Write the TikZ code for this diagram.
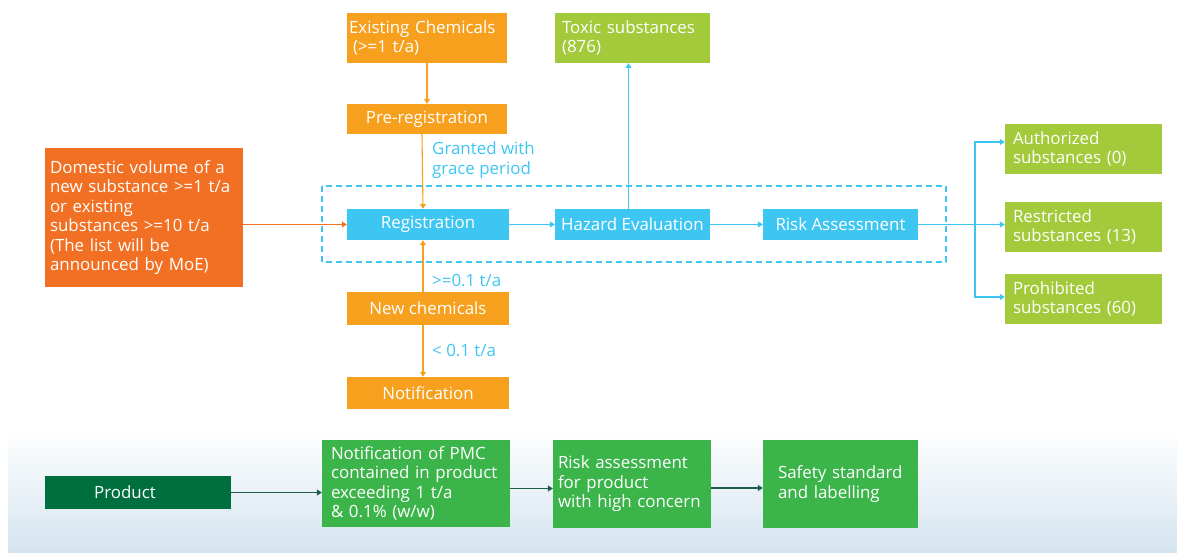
\documentclass[tikz,border=0pt]{standalone}
\usepackage{fontspec}
\setmainfont{Open Sans}
\usetikzlibrary{arrows.meta}
\definecolor{orangeL}{HTML}{F7A01E}
\definecolor{orangeD}{HTML}{F27023}
\definecolor{blueB}{HTML}{3EC6F3}
\definecolor{limeG}{HTML}{A3CA3A}
\definecolor{greenB}{HTML}{3BB54A}
\definecolor{greenD}{HTML}{006F3F}
\definecolor{greenA}{HTML}{1B5E45}
\definecolor{bandB}{HTML}{D4E4EF}
\begin{document}
\begin{tikzpicture}[x=1pt,y=-1pt,
  >={Triangle[length=5pt,width=6pt]},
  box/.style={inner sep=0pt, text=white, font=\fontsize{16.9}{19.5}\selectfont},
  lbl/.style={inner sep=0pt, anchor=west, align=left, text=blueB, font=\fontsize{16.9}{19.5}\selectfont}]
\useasboundingbox (0,0) rectangle (1177,553);
\fill[top color=white, bottom color=bandB] (8,428) rectangle (1177,553);

% chemicals
\node[box, fill=orangeL, minimum height=50pt, text width=156pt, inner xsep=2pt, align=left] (exist) at (427,38) {Existing Chemicals\\\hspace*{4pt}(>=1 t/a)};
\node[box, fill=orangeL, minimum width=160pt, minimum height=30pt] (prereg) at (427,119) {Pre-registration};
\node[box, fill=orangeD, minimum height=139pt, text width=188pt, inner xsep=5pt, align=left] (dom) at (144,217.5) {Domestic volume of a\\new substance >=1 t/a\\or existing\\substances >=10 t/a\\(The list will be\\announced by MoE)};
\node[box, fill=blueB, minimum width=162pt, minimum height=31pt] (reg) at (428,224.5) {Registration};
\node[box, fill=blueB, minimum width=155pt, minimum height=31pt] (haz) at (632.5,224.5) {Hazard Evaluation};
\node[box, fill=blueB, minimum width=155pt, minimum height=31pt] (risk) at (840.5,224.5) {Risk Assessment};
\node[box, fill=orangeL, minimum width=162pt, minimum height=33pt] (newchem) at (428,308.5) {New chemicals};
\node[box, fill=orangeL, minimum width=162pt, minimum height=32pt] (notif) at (428,393) {Notification};

% results
\node[box, fill=limeG, minimum height=50pt, text width=141pt, inner xsep=7pt, align=left] (toxic) at (632.5,38) {Toxic substances\\(876)};
\node[box, fill=limeG, minimum height=50pt, text width=141pt, inner xsep=8pt, align=left] (auth) at (1083.5,149) {Authorized\\substances (0)};
\node[box, fill=limeG, minimum height=50pt, text width=141pt, inner xsep=8pt, align=left] (restr) at (1083.5,227) {Restricted\\substances (13)};
\node[box, fill=limeG, minimum height=50pt, text width=141pt, inner xsep=8pt, align=left] (prohib) at (1083.5,299) {Prohibited\\substances (60)};

% products
\node[box, fill=greenD, minimum width=186pt, minimum height=33pt] (prod) at (138,492.5) {Product\hspace*{26pt}};
\node[box, fill=greenB, minimum height=87pt, text width=170pt, inner xsep=9pt, align=left] (pmc) at (416,483.5) {Notification of PMC\\contained in product\\exceeding 1 t/a\\\& 0.1\% (w/w)};
\node[box, fill=greenB, minimum height=88pt, text width=148pt, inner xsep=5pt, align=left] (rprod) at (632,484) {Risk assessment\\for product\\with high concern\\[-3pt]};
\node[box, fill=greenB, minimum height=88pt, text width=125pt, inner xsep=15pt, align=left] (safe) at (840.5,484) {Safety standard\\and labelling\\[-3pt]};

\node[lbl] (grant) at (432,160) {Granted with\\grace period};
\node[lbl] (above) at (432,280) {>=0.1 t/a};
\node[lbl] (below) at (432,350) {< 0.1 t/a};

\draw[blueB, line width=1.1pt, dash pattern=on 6pt off 4pt] (322,186) rectangle (946,262);
\coordinate (split) at (975,224.5);

\path[draw,->,color=orangeL,line width=1.1pt] (exist) -- (prereg);
\path[draw,->,color=orangeL,line width=1.1pt] ([xshift=-5pt]prereg.south) -- ([xshift=-5pt]reg.north);
\path[draw,->,color=orangeD,line width=1.1pt] (dom.east |- reg) -- (reg);
\path[draw,->,color=orangeL,line width=1.1pt] ([xshift=-5pt]newchem.north) -- ([xshift=-5pt]reg.south);
\path[draw,->,color=orangeL,line width=1.1pt] ([xshift=-5pt]newchem.south) -- ([xshift=-5pt]notif.north);

\path[draw,->,color=blueB,line width=1.1pt] (reg) -- (haz);
\path[draw,->,color=blueB,line width=1.1pt] (haz) -- (risk);
\path[draw,->,color=blueB,line width=1.1pt] ([xshift=-4pt]haz.north) -- ([xshift=-4pt]toxic.south);
\path[draw,-,color=blueB,line width=1.1pt] (risk) -- (split);
\path[draw,->,color=blueB,line width=1.1pt] (split) |- ([yshift=7pt]auth.west);
\path[draw,->,color=blueB,line width=1.1pt] (split) -- (split -| restr.west);
\path[draw,->,color=blueB,line width=1.1pt] (split) |- ([yshift=2pt]prohib.west);

\path[draw,->,color=greenA,line width=1.1pt] (prod.east) -- (prod.east -| pmc.west);
\path[draw,->,color=greenA,line width=1.1pt] ([yshift=-5pt]pmc.east) -- ([yshift=-5pt]pmc.east -| rprod.west);
\path[draw,->,color=greenA,line width=1.1pt] ([yshift=-4pt]rprod.east) -- ([yshift=-4pt]rprod.east -| safe.west);
\end{tikzpicture}
\end{document}
